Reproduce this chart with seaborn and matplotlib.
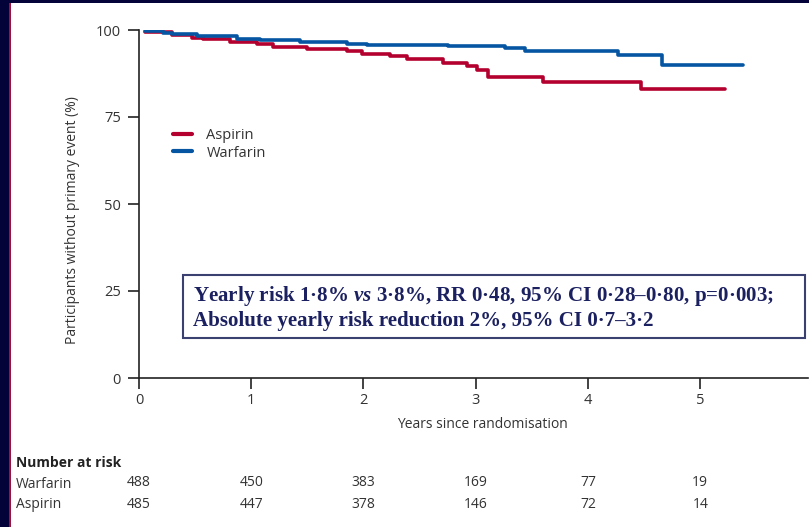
import matplotlib
matplotlib.use("Agg")
import matplotlib.pyplot as plt
import seaborn as sns
import pandas as pd
from matplotlib.patches import Rectangle
import matplotlib.transforms as mtransforms

# ---- data ----
warfarin_t = [0.05, 0.21, 0.29, 0.52, 0.87, 1.08, 1.43, 1.85, 2.03, 2.75, 3.26, 3.44, 4.27, 4.66, 5.38]
warfarin_s = [99.7, 99.1, 98.9, 98.2, 97.4, 97.1, 96.6, 96.0, 95.7, 95.4, 94.8, 94.0, 92.8, 89.9, 89.9]
aspirin_t = [0.05, 0.29, 0.47, 0.57, 0.81, 1.05, 1.19, 1.50, 1.85, 1.99, 2.24, 2.39, 2.71, 2.92, 3.01, 3.11, 3.60, 4.47, 5.22]
aspirin_s = [99.5, 98.6, 97.7, 97.3, 96.6, 96.0, 95.0, 94.4, 94.0, 93.1, 92.5, 91.7, 90.4, 89.7, 88.5, 86.6, 85.1, 83.0, 83.0]
x_ticks = [0, 1, 2, 3, 4, 5]
y_ticks = [0, 25, 50, 75, 100]
risk_warfarin = [488, 450, 383, 169, 77, 19]
risk_aspirin = [485, 447, 378, 146, 72, 14]
annotation = ["Yearly risk 1·8% $\\mathbfit{vs}$ 3·8%, RR 0·48, 95% CI 0·28–0·80, p=0·003;",
              "Absolute yearly risk reduction 2%, 95% CI 0·7–3·2"]

df = pd.concat([
    pd.DataFrame({"t": aspirin_t, "s": aspirin_s, "group": "Aspirin"}),
    pd.DataFrame({"t": warfarin_t, "s": warfarin_s, "group": "Warfarin"}),
])

RED = "#b4002e"
BLUE = "#0555a2"
NAVY = "#1b2060"
TXT = "#333333"

sns.set_style("ticks")
plt.rcParams["font.family"] = ["Open Sans", "DejaVu Sans"]
plt.rcParams["mathtext.fontset"] = "custom"
plt.rcParams["mathtext.bfit"] = "Liberation Serif:italic:bold"
plt.rcParams["mathtext.rm"] = "Liberation Serif:bold"
plt.rcParams["xtick.bottom"] = True
plt.rcParams["ytick.left"] = True
plt.rcParams["xtick.major.size"] = 8
plt.rcParams["ytick.major.size"] = 8

fig = plt.figure(figsize=(8.09, 5.27), dpi=100)
fig.patch.set_facecolor("#03033a")
fig.add_artist(Rectangle((10 / 809, 0), 1, 1 - 3 / 527, transform=fig.transFigure,
                         facecolor="white", edgecolor="none", zorder=-1))
fig.add_artist(Rectangle((9 / 809, 0), 1.5 / 809, 1 - 3 / 527, transform=fig.transFigure,
                         facecolor="#a0103a", edgecolor="none", zorder=-1))

ax = fig.add_axes([139 / 809, 1 - 378 / 527, (808 - 139) / 809, 348 / 527])
ax.set_facecolor("none")

sns.lineplot(data=df, x="t", y="s", hue="group", palette={"Aspirin": RED, "Warfarin": BLUE},
             estimator=None, sort=False, drawstyle="steps-post", linewidth=2.6, ax=ax, legend=True)

ax.set_xlim(0, 5.96)
ax.set_ylim(0, 100)
ax.set_xticks(x_ticks)
ax.set_yticks(y_ticks)
for sp in ["top", "right"]:
    ax.spines[sp].set_visible(False)
for sp in ["left", "bottom"]:
    ax.spines[sp].set_color("#222222")
    ax.spines[sp].set_linewidth(1.2)
ax.tick_params(axis="both", which="major", direction="out", length=8, width=1.2,
               color="#222222", labelcolor=TXT, labelsize=10.5, bottom=True, left=True)
ax.tick_params(axis="x", pad=3)
ax.tick_params(axis="y", pad=5)
ax.set_xlabel("Years since randomisation", fontsize=10, color=TXT)
ax.xaxis.set_label_coords((482 - 139) / 669, (378 - 417) / 348)
ax.set_ylabel("Participants without primary event (%)", fontsize=10, color=TXT)
ax.yaxis.set_label_coords((80 - 139) / 669, (378 - 220) / 348)

leg = ax.legend(loc="upper left", bbox_to_anchor=(0.031, 0.755), frameon=False,
                handlelength=1.3, handletextpad=1.0, fontsize=10.5, labelspacing=0.15,
                title=None)
for line in leg.get_lines():
    line.set_linewidth(3)
for t in leg.get_texts():
    t.set_color(TXT)

# annotation box
ax.add_artist(Rectangle(((183 - 139) / 669, (378 - 338) / 348), (805 - 183) / 669, (338 - 275) / 348,
                        transform=ax.transAxes, facecolor="white", edgecolor="#3a4070",
                        linewidth=1.5, zorder=5, clip_on=False))
ax.text((193 - 139) / 669, (378 - 296) / 348, annotation[0], transform=ax.transAxes,
        fontsize=15.1, fontweight="bold", family="Liberation Serif", color=NAVY,
        va="center", ha="left", zorder=6)
ax.text((193 - 139) / 669, (378 - 321) / 348, annotation[1], transform=ax.transAxes,
        fontsize=15.1, fontweight="bold", family="Liberation Serif", color=NAVY,
        va="center", ha="left", zorder=6)

# number at risk table
trans = mtransforms.blended_transform_factory(ax.transData, fig.transFigure)
fig.text(16 / 809, 1 - 463 / 527, "Number at risk", fontsize=10, fontweight="bold",
         color="#222222", va="center", ha="left")
fig.text(16 / 809, 1 - 484 / 527, "Warfarin", fontsize=10, color=TXT, va="center", ha="left")
fig.text(16 / 809, 1 - 505 / 527, "Aspirin", fontsize=10, color=TXT, va="center", ha="left")
for xt, w, a in zip(x_ticks, risk_warfarin, risk_aspirin):
    ax.text(xt, 1 - 483 / 527, str(w), transform=trans, fontsize=10, color=TXT,
            ha="center", va="center", clip_on=False)
    ax.text(xt, 1 - 504 / 527, str(a), transform=trans, fontsize=10, color=TXT,
            ha="center", va="center", clip_on=False)

fig.savefig("out.png", dpi=100, facecolor=fig.get_facecolor())
